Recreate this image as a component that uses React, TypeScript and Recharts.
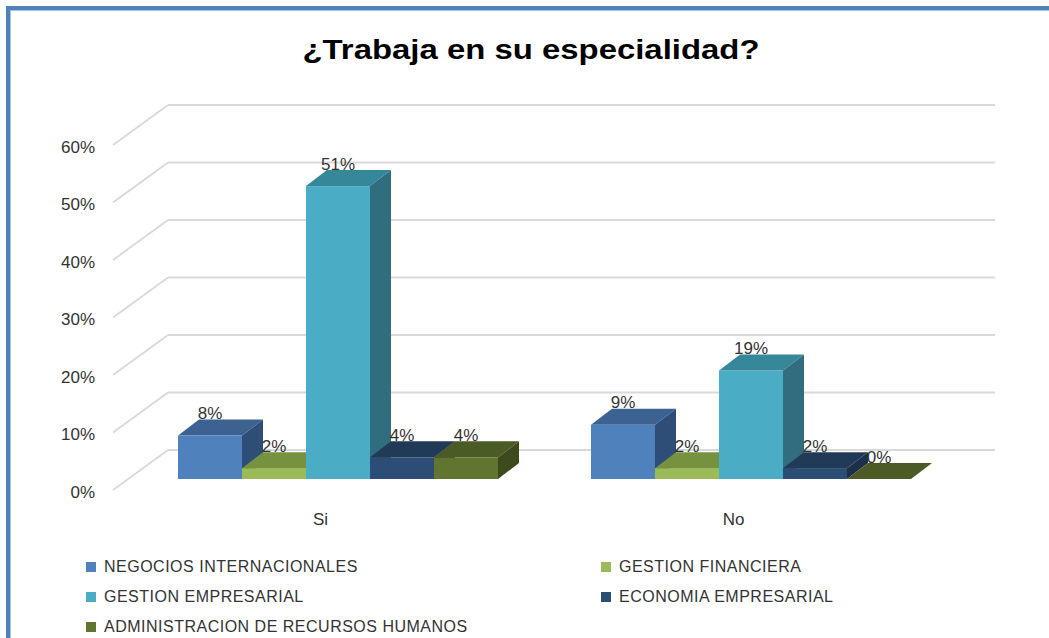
import React from 'react';
import { BarChart, Bar, XAxis, YAxis, CartesianGrid, Legend, LabelList, Customized } from 'recharts';

const categories = ['Si', 'No'];
const negociosInternacionales = [0.0755, 0.0943];
const gestionFinanciera = [0.0189, 0.0189];
const gestionEmpresarial = [0.5094, 0.1887];
const economiaEmpresarial = [0.0377, 0.0189];
const administracionRRHH = [0.0377, 0];
const yTicks = [0, 0.1, 0.2, 0.3, 0.4, 0.5, 0.6];
const title = '¿Trabaja en su especialidad?';

const FONT = '"Liberation Sans", Arial, sans-serif';
const DX = 21;
const DY = 16;

const SERIES = [
  { key: 'neg', name: 'NEGOCIOS INTERNACIONALES', values: negociosInternacionales, front: '#4F81BD', top: '#3C6292', side: '#2F4E77' },
  { key: 'gfin', name: 'GESTION FINANCIERA', values: gestionFinanciera, front: '#9BBB59', top: '#77923F', side: '#5E7530' },
  { key: 'gemp', name: 'GESTION EMPRESARIAL', values: gestionEmpresarial, front: '#4BACC6', top: '#37879B', side: '#306D7E' },
  { key: 'eco', name: 'ECONOMIA EMPRESARIAL', values: economiaEmpresarial, front: '#2C4D75', top: '#213A58', side: '#1C3149' },
  { key: 'adm', name: 'ADMINISTRACION DE RECURSOS HUMANOS', values: administracionRRHH, front: '#5F7530', top: '#4A5B26', side: '#3C4A1E' },
];

const data = categories.map((cat, i) => {
  const row: Record<string, any> = { cat };
  SERIES.forEach((s) => { row[s.key] = s.values[i]; });
  return row;
});

const makeShape = (s: typeof SERIES[number]) => (props: any) => {
  const { x, y, width } = props;
  const h = Math.max(0, props.height || 0);
  const w = width;
  return (
    <g>
      <rect x={x} y={y} width={w} height={h} fill={s.front} />
      <polygon points={`${x},${y} ${x + w},${y} ${x + w + DX},${y - DY} ${x + DX},${y - DY}`} fill={s.top} />
      <polygon points={`${x + w},${y} ${x + w + DX},${y - DY} ${x + w + DX},${y + h - DY} ${x + w},${y + h}`} fill={s.side} />
    </g>
  );
};

const renderLabel = (props: any) => {
  const { x, y, width, value } = props;
  return (
    <text x={x + width / 2} y={y - 22} textAnchor="middle" dominantBaseline="central" fontSize={17} fontFamily={FONT} fill="#333333">
      {`${Math.round(value * 100)}%`}
    </text>
  );
};

const gridLine = (props: any) => {
  const { x1, x2, y1 } = props;
  return (
    <g key={`grid-${y1}`}>
      <line x1={x1 - 18} y1={y1 + 11} x2={x1 + 37} y2={y1 - 29} stroke="#D9D9D9" strokeWidth={1.8} />
      <line x1={x1 + 37} y1={y1 - 29} x2={x2 + 38} y2={y1 - 29} stroke="#D9D9D9" strokeWidth={1.8} />
    </g>
  );
};

const YTick = (props: any) => {
  const { y, payload } = props;
  return (
    <text x={95} y={y + 13} textAnchor="end" dominantBaseline="central" fontSize={17} fontFamily={FONT} fill="#333333">
      {`${Math.round(payload.value * 100)}%`}
    </text>
  );
};

const XTick = (props: any) => {
  const { x, y, payload } = props;
  return (
    <text x={x - 17} y={y + 32} textAnchor="middle" dominantBaseline="central" fontSize={17} fontFamily={FONT} fill="#333333">
      {payload.value}
    </text>
  );
};

const Frame = () => (
  <g>
    <rect x={6} y={6} width={1043} height={4} fill="#4F81BD" />
    <rect x={6} y={6} width={4} height={632} fill="#4F81BD" />
    <rect x={10} y={10} width={1039} height={1} fill="#A9C2E2" />
    <rect x={10} y={10} width={1} height={628} fill="#A9C2E2" />
    <text x={531} y={59} textAnchor="middle" fontSize={27} fontWeight="bold" fontFamily={FONT} fill="#000000" textLength={457} lengthAdjust="spacingAndGlyphs">
      {title}
    </text>
  </g>
);

const legendPos = [
  { x: 6, y: 0 },
  { x: 521, y: 0 },
  { x: 6, y: 30 },
  { x: 521, y: 30 },
  { x: 6, y: 60 },
];

const LegendContent = () => (
  <div style={{ position: 'relative', width: 900, height: 90, fontFamily: FONT }}>
    {SERIES.map((s, i) => (
      <div key={s.key} style={{ position: 'absolute', left: legendPos[i].x, top: legendPos[i].y, height: 30, display: 'flex', alignItems: 'center', whiteSpace: 'nowrap' }}>
        <span style={{ display: 'inline-block', width: 10, height: 10, background: s.front, marginRight: 8 }} />
        <span style={{ fontSize: 16, color: '#333333', letterSpacing: 0.5 }}>{s.name}</span>
      </div>
    ))}
  </div>
);

export default function App() {
  return (
    <div style={{ position: 'absolute', left: 0, top: 0, width: 1049, height: 638, background: '#ffffff' }}>
      <BarChart
        width={1049}
        height={638}
        data={data}
        margin={{ top: 134, right: 92, bottom: 39, left: 71 }}
        barGap={0}
      >
        <CartesianGrid vertical={false} horizontal={gridLine} />
        <XAxis dataKey="cat" axisLine={false} tickLine={false} tick={<XTick />} height={30} interval={0} />
        <YAxis width={60} domain={[0, 0.6]} ticks={yTicks} axisLine={false} tickLine={false} tick={<YTick />} interval={0} />
        <Customized component={Frame} />
        <Legend
          verticalAlign="bottom"
          content={<LegendContent />}
          wrapperStyle={{ position: 'absolute', left: 80, top: 552, bottom: 'auto', width: 900, height: 90 }}
        />
        {SERIES.map((s) => (
          <Bar key={s.key} dataKey={s.key} name={s.name} barSize={64} fill={s.front} shape={makeShape(s)} isAnimationActive={false}>
            <LabelList dataKey={s.key} content={renderLabel} />
          </Bar>
        ))}
      </BarChart>
    </div>
  );
}
